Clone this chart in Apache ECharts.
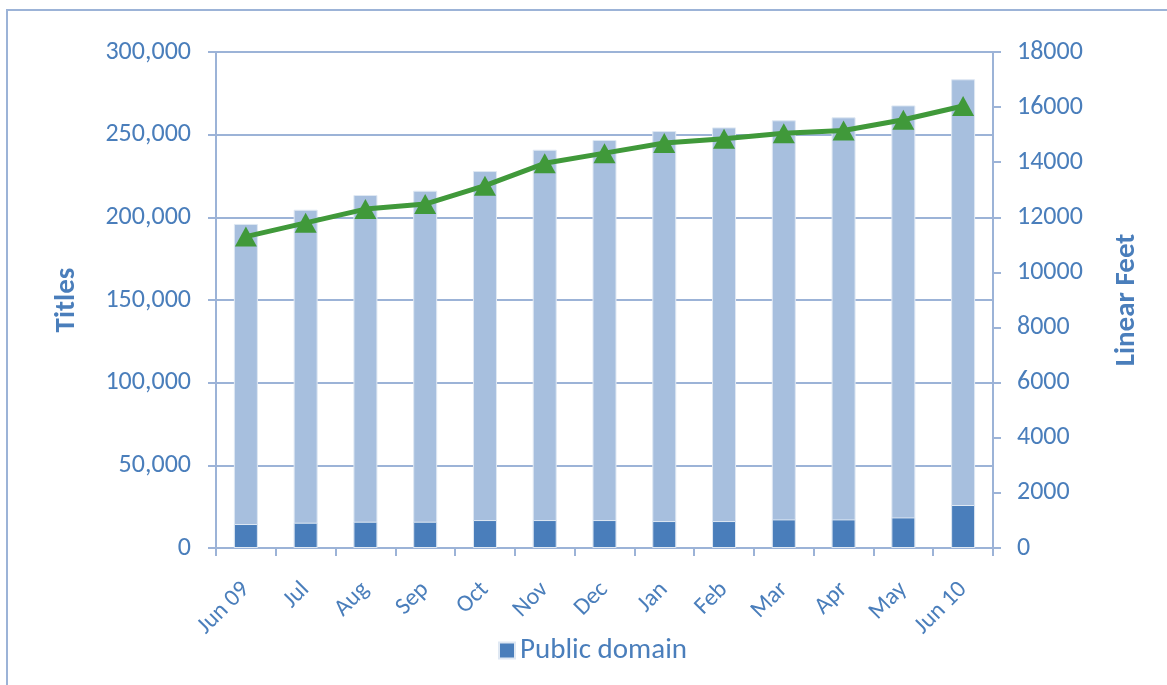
<!DOCTYPE html>
<html>
<head>
    <meta charset="utf-8">
    <title>Titles and Linear Feet</title>
    <script src="https://cdn.jsdelivr.net/npm/echarts@6/dist/echarts.min.js"></script>
    <style>
        body { margin: 0; background: #fff; }
        #frame { position: absolute; left: 6px; top: 9px; width: 1170px; height: 690px;
                 border-left: 2px solid #9cb3d7; border-top: 2px solid #9cb3d7; }
        #chart-container { position: absolute; left: 0; top: 0; width: 1167px; height: 685px; }
    </style>
</head>
<body>
<div id="frame"></div>
<div id="chart-container"></div>
<script>
    // months along the x axis
    var months = ['Jun 09', 'Jul', 'Aug', 'Sep', 'Oct', 'Nov', 'Dec', 'Jan', 'Feb', 'Mar', 'Apr', 'May', 'Jun 10'];
    // total titles (light bars)
    var totalTitles = [196000, 204600, 213500, 216100, 228000, 240900, 246800, 252200, 254400, 258700, 260500, 267700, 283500];
    // public domain titles (dark bars)
    var publicDomain = [14500, 15300, 15900, 15900, 16900, 16900, 16900, 16300, 16300, 17300, 17300, 18500, 26000];
    // linear feet (green line, right axis)
    var linearFeet = [11300, 11800, 12300, 12480, 13150, 13960, 14330, 14700, 14850, 15050, 15150, 15540, 16040];

    var textColor = '#4a7ebb';
    var axisColor = '#9cb3d7';
    var font = 'Carlito, Lato, sans-serif';

    var option1 = {
        animation: false,
        textStyle: { fontFamily: font },
        grid: { left: 216, right: 174, top: 52, bottom: 137 },
        legend: {
            data: ['Public domain'],
            left: 493,
            top: 631,
            icon: 'rect',
            itemWidth: 16,
            itemHeight: 16,
            itemGap: 6,
            textStyle: { color: textColor, fontSize: 29, fontFamily: font }
        },
        xAxis: {
            type: 'category',
            data: months,
            axisLine: { lineStyle: { color: axisColor, width: 2 } },
            axisTick: { show: true, length: 8, lineStyle: { color: axisColor, width: 2 } },
            axisLabel: {
                interval: 0,
                rotate: 45,
                margin: 38,
                color: textColor,
                fontSize: 24,
                fontFamily: font
            }
        },
        yAxis: [
            {
                type: 'value',
                min: 0,
                max: 300000,
                interval: 50000,
                name: 'Titles',
                nameLocation: 'middle',
                nameGap: 135,
                nameRotate: 90,
                nameTextStyle: { color: textColor, fontSize: 29, fontWeight: 'bold', fontFamily: font },
                axisLine: { show: true, lineStyle: { color: axisColor, width: 2 } },
                axisTick: { show: true, length: 8, lineStyle: { color: axisColor, width: 2 } },
                axisLabel: {
                    margin: 25,
                    color: textColor,
                    fontSize: 26,
                    fontFamily: font,
                    formatter: function (v) { return v.toLocaleString('en-US'); }
                },
                splitLine: { show: true, lineStyle: { color: axisColor, width: 2 } }
            },
            {
                type: 'value',
                min: 0,
                max: 18000,
                interval: 2000,
                name: 'Linear Feet',
                nameLocation: 'middle',
                nameGap: 119,
                nameRotate: 90,
                nameTextStyle: { color: textColor, fontSize: 29, fontWeight: 'bold', fontFamily: font },
                axisLine: { show: true, lineStyle: { color: axisColor, width: 2 } },
                axisTick: { show: true, length: 8, lineStyle: { color: axisColor, width: 2 } },
                axisLabel: {
                    margin: 24,
                    color: textColor,
                    fontSize: 26,
                    fontFamily: font,
                    formatter: function (v) { return String(v); }
                },
                splitLine: { show: false }
            }
        ],
        series: [
            {
                name: 'Total',
                type: 'bar',
                barWidth: 24,
                barGap: '-100%',
                itemStyle: { color: '#a7bfde', borderColor: '#dfe8f3', borderWidth: 1 },
                data: totalTitles
            },
            {
                name: 'Public domain',
                type: 'bar',
                barWidth: 24,
                barGap: '-100%',
                itemStyle: { color: '#4a7ebb', borderColor: '#dfe8f3', borderWidth: 1 },
                data: publicDomain
            },
            {
                name: 'Linear Feet',
                type: 'line',
                yAxisIndex: 1,
                symbol: 'triangle',
                symbolSize: [22, 20],
                lineStyle: { color: '#40993a', width: 5 },
                itemStyle: { color: '#40993a' },
                data: linearFeet
            }
        ]
    };

    var chart = echarts.init(document.getElementById('chart-container'));
    chart.setOption(option1);
</script>
</body>
</html>
